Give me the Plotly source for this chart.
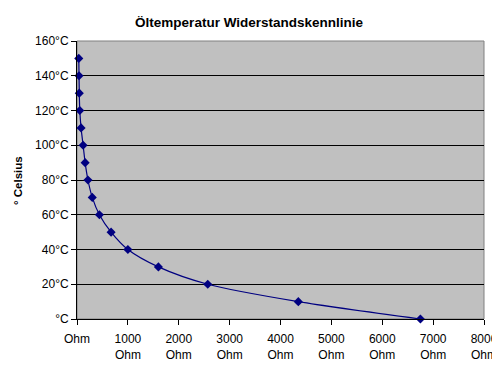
import plotly.graph_objects as go

temps_c = [150, 140, 130, 120, 110, 100, 90, 80, 70, 60, 50, 40, 30, 20, 10, 0]
resist_ohm = [35, 40, 45, 55, 80, 120, 160, 215, 300, 440, 670, 1000, 1600, 2570, 4350, 6750]

x_tickvals = [0, 1000, 2000, 3000, 4000, 5000, 6000, 7000, 8000]
x_ticktext = ["Ohm", "1000<br>Ohm", "2000<br>Ohm", "3000<br>Ohm", "4000<br>Ohm",
              "5000<br>Ohm", "6000<br>Ohm", "7000<br>Ohm", "8000<br>Ohm"]
y_tickvals = [0, 20, 40, 60, 80, 100, 120, 140, 160]
y_ticktext = ["°C", "20°C", "40°C", "60°C", "80°C", "100°C", "120°C", "140°C", "160°C"]

font = "Liberation Sans, Arial, sans-serif"

fig = go.Figure()
fig.add_trace(go.Scatter(
    x=resist_ohm, y=temps_c, mode="lines+markers",
    line=dict(color="#000080", width=1.2, shape="spline", smoothing=0.8),
    marker=dict(symbol="diamond", size=7, color="#000080"),
    cliponaxis=False, showlegend=False,
))

fig.update_layout(
    width=492, height=358,
    margin=dict(l=69, r=16, t=33, b=47, autoexpand=False),
    paper_bgcolor="white", plot_bgcolor="#C0C0C0",
    font=dict(family=font, size=12, color="black"),
    title=dict(text="<b>Öltemperatur Widerstandskennlinie</b>", x=0.49, xref="container",
               xanchor="center", y=0.961, yref="container", yanchor="middle",
               font=dict(size=13.5, family=font, color="black")),
    xaxis=dict(range=[0, 8000], tickvals=x_tickvals, ticktext=x_ticktext,
               showgrid=False, zeroline=False, showline=True, linecolor="black",
               linewidth=1, ticks="outside", ticklen=5, tickcolor="black",
               ticklabelstandoff=4,
               automargin=False, tickfont=dict(size=12, family=font)),
    yaxis=dict(range=[0, 160], tickvals=y_tickvals, ticktext=y_ticktext,
               showgrid=True, gridcolor="black", gridwidth=1, zeroline=False,
               showline=True, linecolor="black", linewidth=1, ticks="outside",
               ticklen=5, tickcolor="black", automargin=False,
               tickfont=dict(size=12, family=font)),
    annotations=[dict(text="<b>° Celsius</b>", xref="paper", yref="paper",
                      x=-0.145, y=0.5, xanchor="center", yanchor="middle",
                      textangle=-90, showarrow=False,
                      font=dict(size=11.5, family=font, color="black"))],
    shapes=[dict(type="rect", xref="paper", yref="paper", x0=0, x1=1, y0=0, y1=1,
                 line=dict(color="#808080", width=1), layer="below")],
)

fig.write_html("out.html")
